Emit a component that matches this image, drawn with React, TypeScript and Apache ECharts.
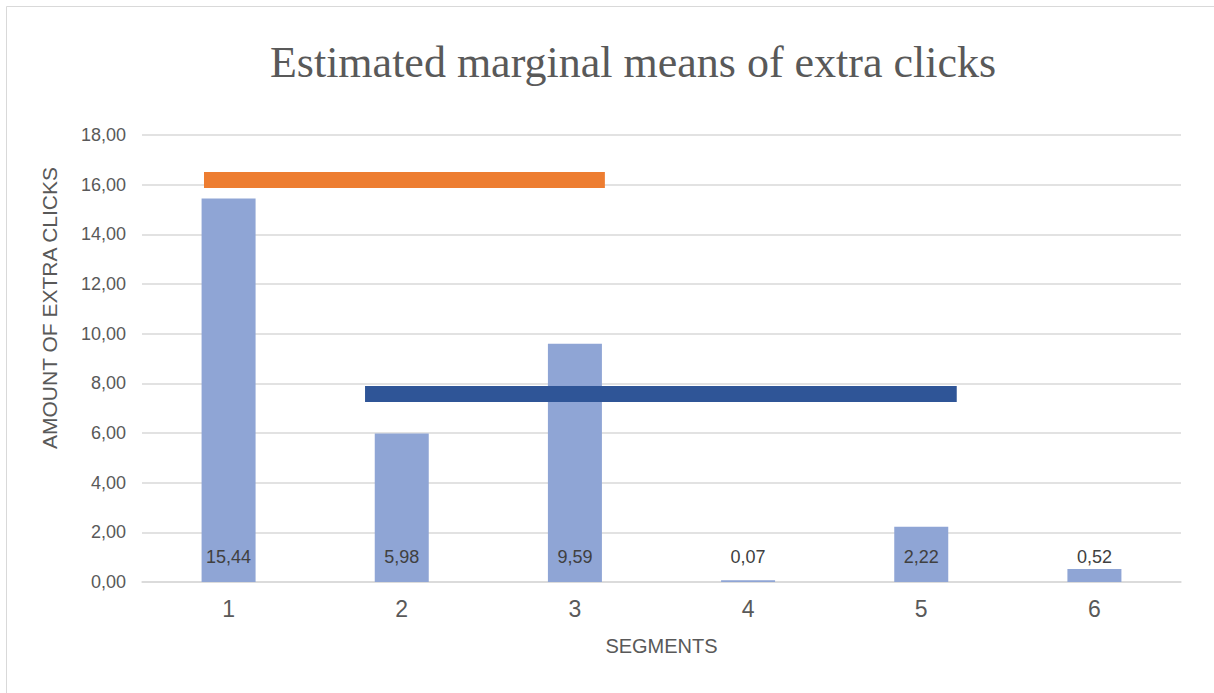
import React, { useEffect, useRef } from "react";
import * as echarts from "echarts";

const segments = ["1", "2", "3", "4", "5", "6"];
const extraClicks = [15.44, 5.98, 9.59, 0.07, 2.22, 0.52];

// Group reference lines: [start, end] in category units (0 = first segment centre) and level
const orangeSpan = [-0.142, 2.173];
const orangeLevel = 16.19;
const blueSpan = [0.788, 4.205];
const blueLevel = 7.57;

const fmt = (v: number) => v.toFixed(2).replace(".", ",");
const sans = "Liberation Sans, Arial, sans-serif";

export default function App() {
  const ref = useRef<HTMLDivElement>(null);

  useEffect(() => {
    if (!ref.current) return;
    const chart = echarts.init(ref.current, undefined, { renderer: "svg" });
    const grid = { left: 142, right: 33, top: 135, bottom: 111 };
    chart.setOption({
      animation: false,
      backgroundColor: "#ffffff",
      title: {
        text: "Estimated marginal means of extra clicks",
        left: 628,
        top: 35,
        textAlign: "center",
        textStyle: {
          fontFamily: "Liberation Serif, serif",
          fontWeight: "normal",
          fontSize: 44,
          color: "#595959",
        },
      },
      graphic: [
        {
          type: "rect",
          shape: { x: 6.5, y: 6.5, width: 1260, height: 740 },
          style: { fill: "none", stroke: "#d9d9d9", lineWidth: 1 },
          silent: true,
        },
        {
          type: "text",
          x: 49,
          y: 308,
          rotation: Math.PI / 2,
          style: {
            text: "AMOUNT OF EXTRA CLICKS",
            fontFamily: sans,
            fontSize: 21,
            fill: "#595959",
            align: "center",
            verticalAlign: "middle",
          },
        },
      ],
      grid,
      xAxis: [
        {
          type: "category",
          data: segments,
          name: "SEGMENTS",
          nameLocation: "middle",
          nameGap: 54,
          nameTextStyle: { fontFamily: sans, fontSize: 20, color: "#595959" },
          axisLine: { lineStyle: { color: "#d9d9d9", width: 1.5 } },
          axisTick: { show: false },
          axisLabel: {
            margin: 15,
            fontFamily: sans,
            fontSize: 23,
            color: "#595959",
          },
        },
        {
          type: "value",
          min: -0.5,
          max: 5.5,
          show: false,
        },
      ],
      yAxis: {
        type: "value",
        min: 0,
        max: 18,
        interval: 2,
        axisLine: { show: false },
        axisTick: { show: false },
        axisLabel: {
          margin: 16,
          formatter: (v: number) => fmt(v),
          fontFamily: sans,
          fontSize: 18,
          color: "#595959",
        },
        splitLine: { lineStyle: { color: "#d9d9d9", width: 1.5 } },
      },
      series: [
        {
          type: "bar",
          data: extraClicks,
          barWidth: 54,
          itemStyle: { color: "#8FA5D5" },
          label: {
            show: true,
            position: "insideBottom",
            distance: 16,
            formatter: (p: any) => fmt(p.value),
            fontFamily: sans,
            fontSize: 18,
            color: "#404040",
          },
        },
        {
          type: "line",
          xAxisIndex: 1,
          data: [
            [orangeSpan[0], orangeLevel],
            [orangeSpan[1], orangeLevel],
          ],
          symbol: "none",
          lineStyle: { color: "#ED7D31", width: 16, cap: "butt" },
          z: 3,
        },
        {
          type: "line",
          xAxisIndex: 1,
          data: [
            [blueSpan[0], blueLevel],
            [blueSpan[1], blueLevel],
          ],
          symbol: "none",
          lineStyle: { color: "#2F5597", width: 16, cap: "butt" },
          z: 3,
        },
      ],
    });
    return () => chart.dispose();
  }, []);

  return (
    <div
      ref={ref}
      style={{ position: "fixed", left: 0, top: 0, width: 1214, height: 693 }}
    />
  );
}
